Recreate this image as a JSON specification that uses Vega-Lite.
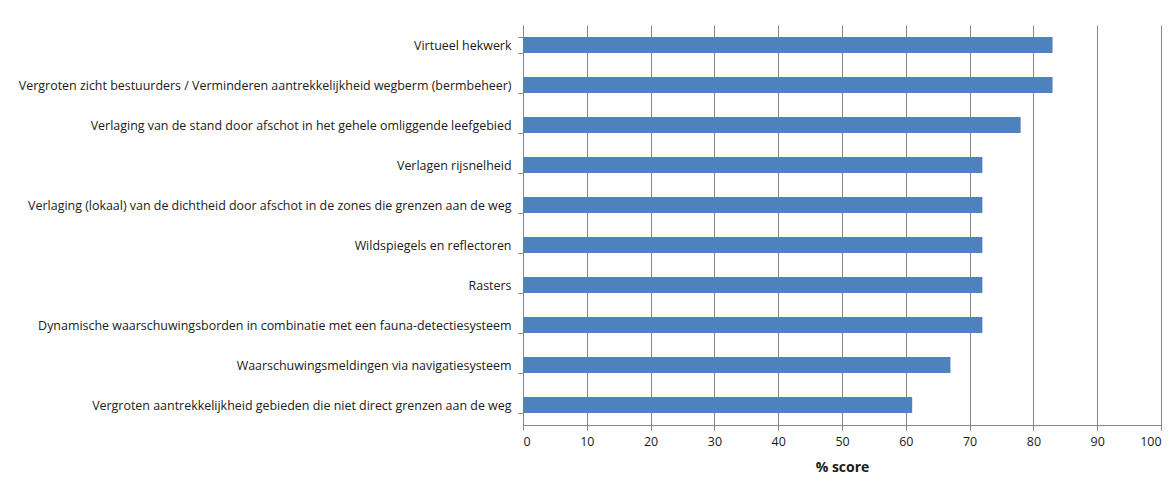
{
  "$schema": "https://vega.github.io/schema/vega-lite/v6.json",
  "autosize": {"type": "none"},
  "width": 638,
  "height": 400,
  "padding": {"left": 523, "top": 25, "right": 12, "bottom": 66},
  "background": "white",
  "data": {
    "values": [
      {"maatregel": "Virtueel hekwerk", "score": 83},
      {"maatregel": "Vergroten zicht bestuurders / Verminderen aantrekkelijkheid wegberm (bermbeheer)", "score": 83},
      {"maatregel": "Verlaging van de stand door afschot in het gehele omliggende leefgebied", "score": 78},
      {"maatregel": "Verlagen rijsnelheid", "score": 72},
      {"maatregel": "Verlaging (lokaal) van de dichtheid door afschot in de zones die grenzen aan de weg", "score": 72},
      {"maatregel": "Wildspiegels en reflectoren", "score": 72},
      {"maatregel": "Rasters", "score": 72},
      {"maatregel": "Dynamische waarschuwingsborden in combinatie met een fauna-detectiesysteem", "score": 72},
      {"maatregel": "Waarschuwingsmeldingen via navigatiesysteem", "score": 67},
      {"maatregel": "Vergroten aantrekkelijkheid gebieden die niet direct grenzen aan de weg", "score": 61}
    ]
  },
  "mark": {"type": "bar", "color": "#4F81BD"},
  "encoding": {
    "y": {
      "field": "maatregel",
      "type": "nominal",
      "sort": null,
      "scale": {"paddingInner": 0.6, "paddingOuter": 0.3},
      "axis": {
        "title": null,
        "labelLimit": 0,
        "labelFont": "Open Sans",
        "labelFontSize": 12.45,
        "labelColor": "#1a1a1a",
        "tickBand": "extent",
        "tickSize": 5,
        "tickColor": "#868686",
        "domainColor": "#868686",
        "labelPadding": 7,
        "grid": false
      }
    },
    "x": {
      "field": "score",
      "type": "quantitative",
      "scale": {"domain": [0, 100], "nice": false},
      "axis": {
        "title": "% score",
        "titleFont": "Open Sans",
        "titleFontSize": 14,
        "titleFontWeight": "bold",
        "titleColor": "#1a1a1a",
        "titlePadding": 13,
        "values": [0, 10, 20, 30, 40, 50, 60, 70, 80, 90, 100],
        "labelFont": "Open Sans",
        "labelFontSize": 12.45,
        "labelColor": "#1a1a1a",
        "labelPadding": 5,
        "tickSize": 5,
        "tickColor": "#868686",
        "domainColor": "#868686",
        "grid": true,
        "gridColor": "#868686",
        "gridOpacity": 1
      }
    }
  },
  "config": {"view": {"stroke": null}}
}
